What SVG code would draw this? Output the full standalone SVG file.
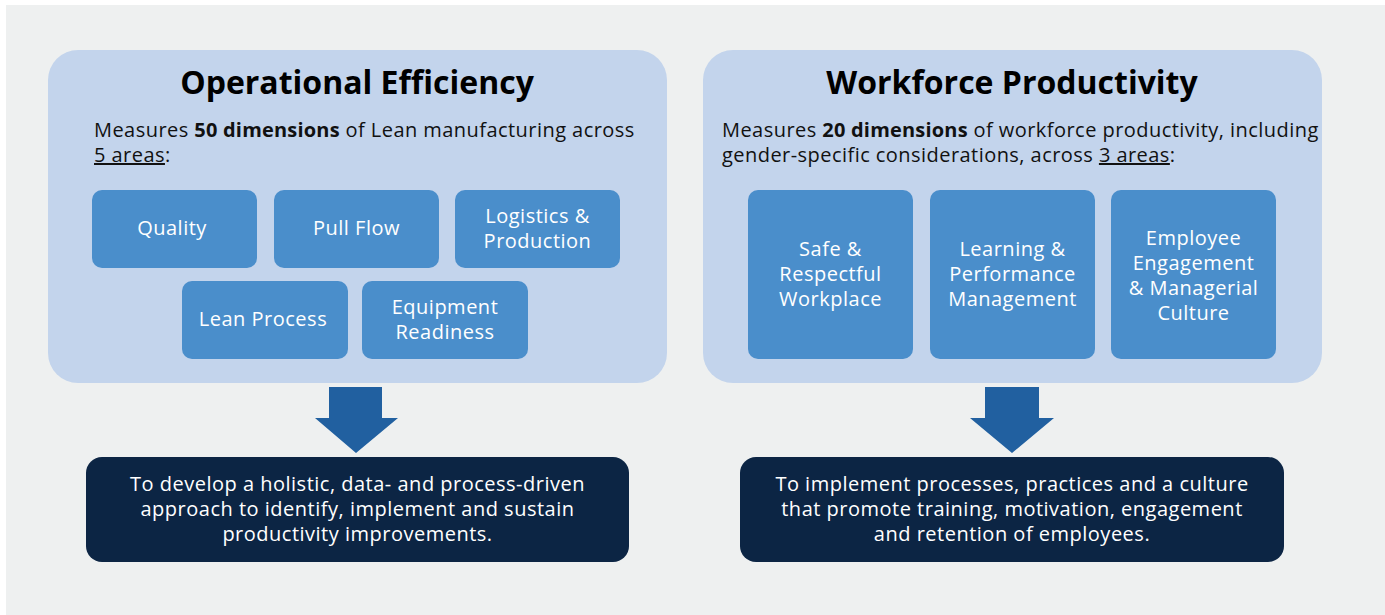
<svg xmlns="http://www.w3.org/2000/svg" width="1385" height="615" viewBox="0 0 1385 615">
  <style>
    .bg { fill: #eef0f0; }
    .panel { fill: #c3d4ec; }
    .area { fill: #4a8ecb; }
    .goal { fill: #0c2544; }
    .arrow { fill: #2160a0; }
    text { font-family: "Open Sans", "Noto Sans", sans-serif; }
    .title { font-size: 32px; font-weight: 700; fill: #000; text-anchor: middle; }
    .body { font-size: 20px; letter-spacing: 0.45px; fill: #111; }
    .body .b { font-weight: 700; letter-spacing: 0.2px; }
    .lbl { font-size: 20px; letter-spacing: 0.5px; fill: #fff; text-anchor: middle; }
    .goaltxt { font-size: 20px; letter-spacing: 0.5px; fill: #fff; text-anchor: middle; }
  </style>

  <rect class="bg" x="6" y="5" width="1379" height="610"/>

  <!-- Operational Efficiency panel -->
  <g id="operational-efficiency">
    <rect class="panel" x="48" y="50" width="619" height="333" rx="30"/>
    <text class="title" x="357" y="94">Operational Efficiency</text>
    <text class="body" x="94" y="137">Measures <tspan class="b">50 dimensions</tspan> of Lean manufacturing across</text>
    <text class="body" x="94" y="162"><tspan text-decoration="underline">5 areas</tspan>:</text>
  </g>

  <g id="quality">
    <rect class="area" x="92" y="190" width="165" height="78" rx="10"/>
    <text class="lbl" x="172" y="235">Quality</text>
  </g>
  <g id="pull-flow">
    <rect class="area" x="274" y="190" width="165" height="78" rx="10"/>
    <text class="lbl" x="356.5" y="235">Pull Flow</text>
  </g>
  <g id="logistics-production">
    <rect class="area" x="455" y="190" width="165" height="78" rx="10"/>
    <text class="lbl" x="537.5" y="223">Logistics &amp;</text>
    <text class="lbl" x="537.5" y="248">Production</text>
  </g>
  <g id="lean-process">
    <rect class="area" x="182" y="281" width="166" height="78" rx="10"/>
    <text class="lbl" x="263" y="326">Lean Process</text>
  </g>
  <g id="equipment-readiness">
    <rect class="area" x="362" y="281" width="166" height="78" rx="10"/>
    <text class="lbl" x="445" y="314">Equipment</text>
    <text class="lbl" x="445" y="339">Readiness</text>
  </g>

  <!-- Workforce Productivity panel -->
  <g id="workforce-productivity">
    <rect class="panel" x="703" y="50" width="619" height="333" rx="30"/>
    <text class="title" x="1012" y="94">Workforce Productivity</text>
    <text class="body" x="722" y="137">Measures <tspan class="b">20 dimensions</tspan> of workforce productivity, including</text>
    <text class="body" x="722" y="162">gender-specific considerations, across <tspan text-decoration="underline">3 areas</tspan>:</text>
  </g>

  <g id="safe-workplace">
    <rect class="area" x="748" y="190" width="165" height="169" rx="10"/>
    <text class="lbl" x="830.5" y="256">Safe &amp;</text>
    <text class="lbl" x="830.5" y="281">Respectful</text>
    <text class="lbl" x="830.5" y="306">Workplace</text>
  </g>
  <g id="learning-performance">
    <rect class="area" x="930" y="190" width="165" height="169" rx="10"/>
    <text class="lbl" x="1012.5" y="256">Learning &amp;</text>
    <text class="lbl" x="1012.5" y="281">Performance</text>
    <text class="lbl" x="1012.5" y="306">Management</text>
  </g>
  <g id="engagement-culture">
    <rect class="area" x="1111" y="190" width="165" height="169" rx="10"/>
    <text class="lbl" x="1193.5" y="245">Employee</text>
    <text class="lbl" x="1193.5" y="270">Engagement</text>
    <text class="lbl" x="1193.5" y="295">&amp; Managerial</text>
    <text class="lbl" x="1193.5" y="320">Culture</text>
  </g>

  <!-- Down arrows -->
  <g id="connectors">
    <polygon class="arrow" points="329,387 382,387 382,418 398,418 356,453 315,418 329,418"/>
    <polygon class="arrow" points="985,387 1039,387 1039,418 1054,418 1012,453 970,418 985,418"/>
  </g>

  <!-- Goals -->
  <g id="goal-efficiency">
    <rect class="goal" x="86" y="457" width="543" height="105" rx="16"/>
    <text class="goaltxt" x="357.5" y="491">To develop a holistic, data- and process-driven</text>
    <text class="goaltxt" x="357.5" y="516">approach to identify, implement and sustain</text>
    <text class="goaltxt" x="357.5" y="541">productivity improvements.</text>
  </g>
  <g id="goal-workforce">
    <rect class="goal" x="740" y="457" width="544" height="105" rx="16"/>
    <text class="goaltxt" x="1012" y="491">To implement processes, practices and a culture</text>
    <text class="goaltxt" x="1012" y="516">that promote training, motivation, engagement</text>
    <text class="goaltxt" x="1012" y="541">and retention of employees.</text>
  </g>
</svg>
